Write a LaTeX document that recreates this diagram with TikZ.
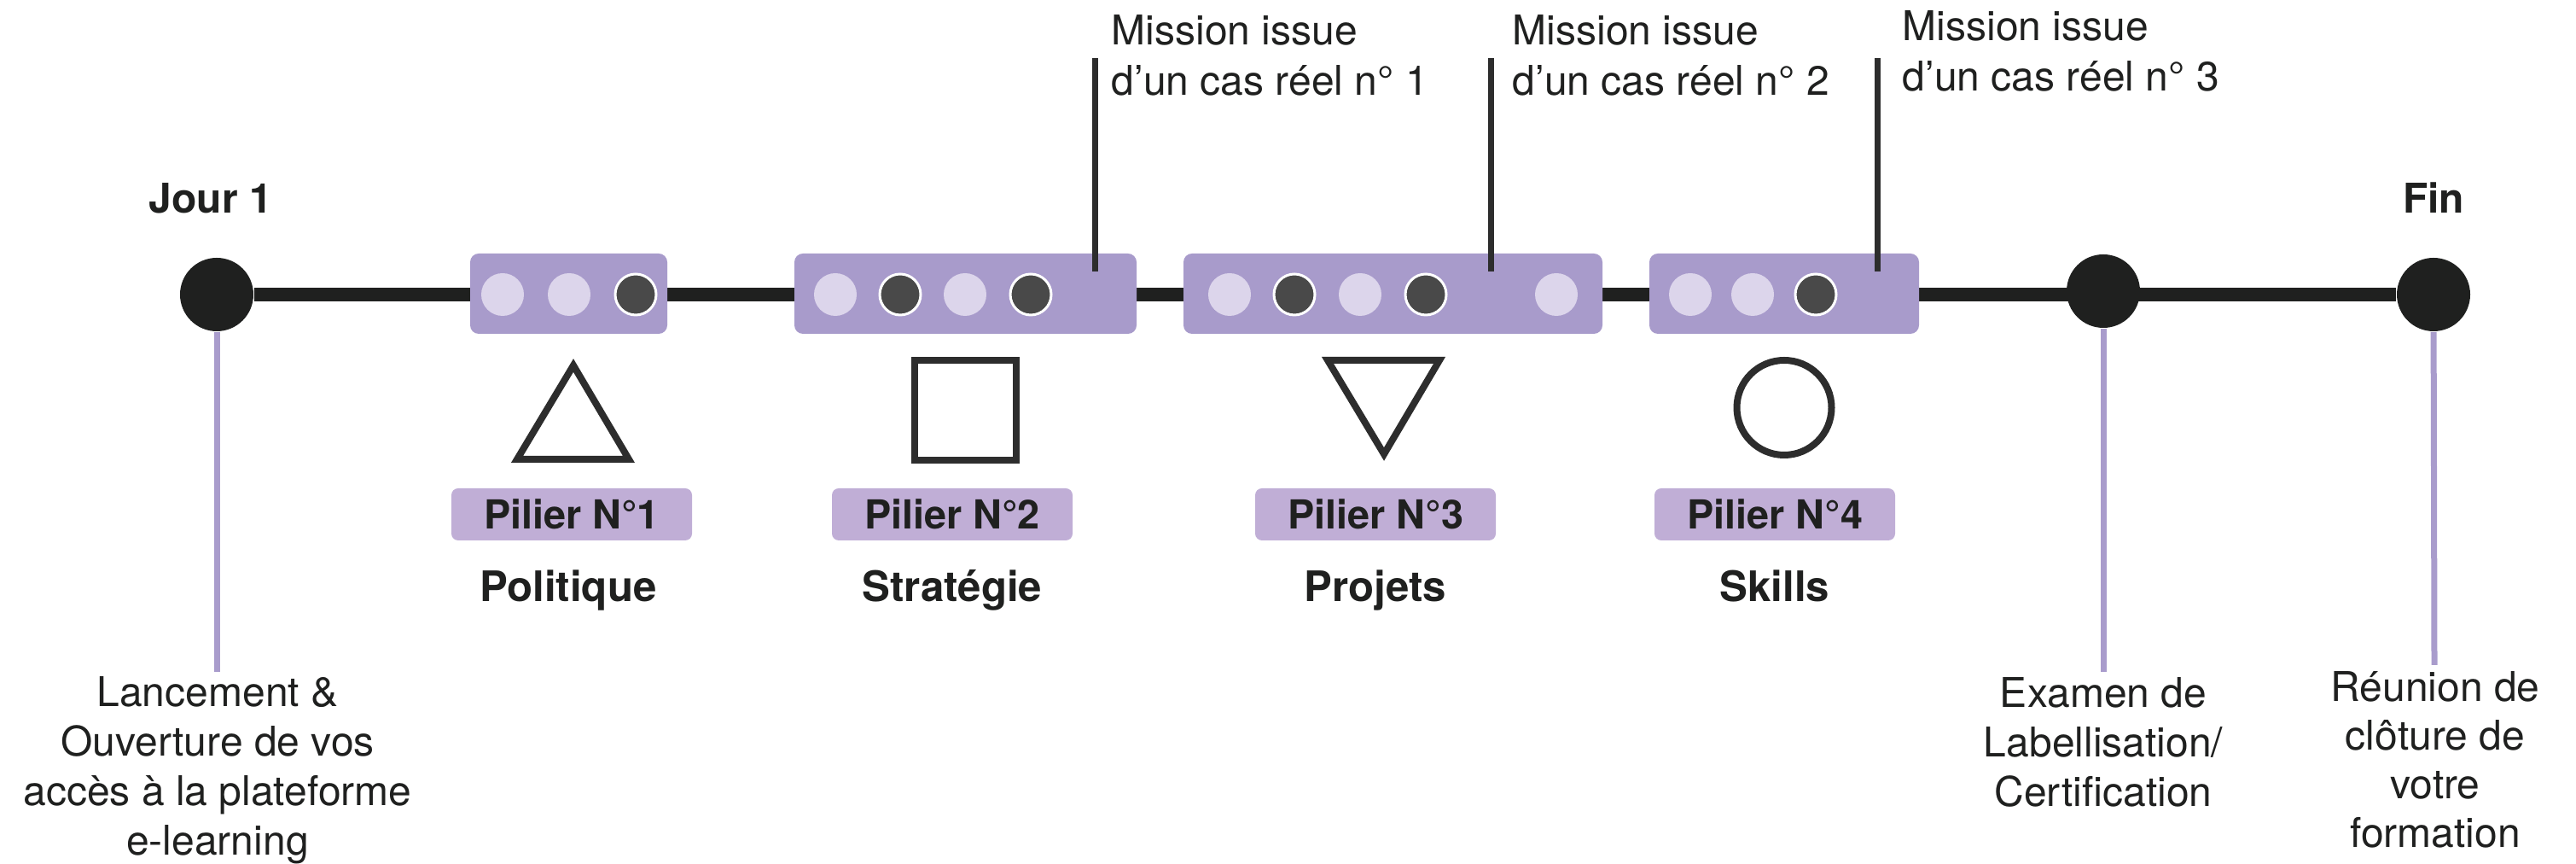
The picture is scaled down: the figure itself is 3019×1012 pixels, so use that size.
\documentclass[tikz,border=0pt]{standalone}
\usepackage{fontspec}
\setmainfont{TeX Gyre Heros}
\definecolor{ink}{HTML}{1F201F}
\definecolor{stroke}{HTML}{2D2D2D}
\definecolor{boxp}{HTML}{A89BCB}
\definecolor{labp}{HTML}{C0AED6}
\definecolor{lightdot}{HTML}{DCD5EB}
\definecolor{darkdot}{HTML}{494949}
\definecolor{lav}{HTML}{A99CCC}
\begin{document}
\begin{tikzpicture}[x=0.25pt,y=-0.25pt,
  milestone/.style={circle, fill=ink, minimum size=21.5pt, inner sep=0pt},
  timeline/.style={draw=ink, line width=4pt},
  stagebox/.style={rectangle, rounded corners=2.5pt, fill=boxp, minimum height=23.5pt, inner sep=0pt},
  ldot/.style={circle, fill=lightdot, minimum size=12.5pt, inner sep=0pt},
  ddot/.style={circle, fill=darkdot, draw=white, line width=0.75pt, minimum size=12pt, inner sep=0pt},
  pilier/.style={rectangle, rounded corners=2pt, fill=labp, minimum width=70.5pt, minimum height=15.25pt, inner sep=0pt, font=\bfseries\fontsize{11.7}{14}\selectfont, text=ink},
  catname/.style={font=\bfseries\fontsize{12.3}{14}\selectfont, text=ink, anchor=base, inner sep=0pt},
  headtext/.style={font=\bfseries\fontsize{12}{14}\selectfont, text=ink, anchor=base, inner sep=0pt},
  bodytext/.style={font=\fontsize{12}{14.75}\selectfont, text=ink, inner sep=0pt},
  missionline/.style={draw=stroke, line width=1.75pt},
  lavline/.style={draw=lav, line width=1.75pt},
  icon/.style={draw=stroke, line width=2pt}
]
\useasboundingbox (0,0) rectangle (3019,1012);

% milestones
\node[milestone] (j1) at (254,345) {};
\node[milestone] (fin) at (2852,345) {};
\draw[timeline] (j1) -- (fin);
\node[milestone] (exam) at (2465,341) {};

% stage boxes
\node[stagebox, minimum width=57.75pt] (b1) at (666.5,344) {};
\node[stagebox, minimum width=100.25pt] (b2) at (1131.5,344) {};
\node[stagebox, minimum width=122.75pt] (b3) at (1632.5,344) {};
\node[stagebox, minimum width=79pt] (b4) at (2091,344) {};

% dots
\node[ldot] (d11) at (589,345) {};
\node[ldot] (d12) at (667,345) {};
\node[ddot] (d13) at (745,345) {};
\node[ldot] (d21) at (979,345) {};
\node[ddot] (d22) at (1055,345) {};
\node[ldot] (d23) at (1131,345) {};
\node[ddot] (d24) at (1208,345) {};
\node[ldot] (d31) at (1441,345) {};
\node[ddot] (d32) at (1517,345) {};
\node[ldot] (d33) at (1594,345) {};
\node[ddot] (d34) at (1671,345) {};
\node[ldot] (d35) at (1824,345) {};
\node[ldot] (d41) at (1981,345) {};
\node[ldot] (d42) at (2054,345) {};
\node[ddot] (d43) at (2128,345) {};

% mission callouts
\coordinate (m1t) at (1283,68); \coordinate (m1b) at (1283,318);
\coordinate (m2t) at (1747,68); \coordinate (m2b) at (1747,318);
\coordinate (m3t) at (2200,68); \coordinate (m3b) at (2200,318);
\draw[missionline] (m1t) -- (m1b);
\draw[missionline] (m2t) -- (m2b);
\draw[missionline] (m3t) -- (m3b);
\node[bodytext, align=left, anchor=base west] (mt1) at (1302,112) {Mission issue\\d’un cas réel n° 1};
\node[bodytext, align=left, anchor=base west] (mt2) at (1772,112) {Mission issue\\d’un cas réel n° 2};
\node[bodytext, align=left, anchor=base west] (mt3) at (2229,107) {Mission issue\\d’un cas réel n° 3};

% head labels
\node[headtext] (jour) at (247,250) {Jour 1};
\node[headtext] (fintxt) at (2852,250) {Fin};

% icons
\draw[icon, line join=miter] (606,538) -- (737,538) -- (672,428) -- cycle;
\draw[icon] (1072,422) rectangle (1191,539);
\draw[icon, line join=miter] (1556,422) -- (1687,422) -- (1622,532) -- cycle;
\draw[icon] (2091,477.5) circle[radius=55.5];

% pillar labels
\node[pilier] (p1) at (670,602.5) {Pilier N°1};
\node[pilier] (p2) at (1116,602.5) {Pilier N°2};
\node[pilier] (p3) at (1612,602.5) {Pilier N°3};
\node[pilier] (p4) at (2080,602.5) {Pilier N°4};
\node[catname] (c1) at (666,705) {Politique};
\node[catname] (c2) at (1116,705) {Stratégie};
\node[catname] (c3) at (1612,705) {Projets};
\node[catname] (c4) at (2080,705) {Skills};

% bottom stems
\coordinate (s1) at (254,787);
\coordinate (s2) at (2465,787);
\coordinate (s3) at (2853,779);
\draw[lavline] (j1) -- (s1);
\draw[lavline] (exam) -- (s2);
\draw[lavline] (fin) -- (s3);
\node[bodytext, align=center, anchor=base, font=\fontsize{12}{14.5}\selectfont] (t1) at (255,1002) {Lancement \&\\Ouverture de vos\\accès à la plateforme\\e-learning};
\node[bodytext, align=center, anchor=base, font=\fontsize{12}{14.6}\selectfont] (t2) at (2465,945) {Examen de\\Labellisation/\\Certification};
\node[bodytext, align=center, anchor=base, font=\fontsize{12}{14.25}\selectfont] (t3) at (2854,993) {Réunion de\\clôture de\\votre\\formation};
\end{tikzpicture}
\end{document}
